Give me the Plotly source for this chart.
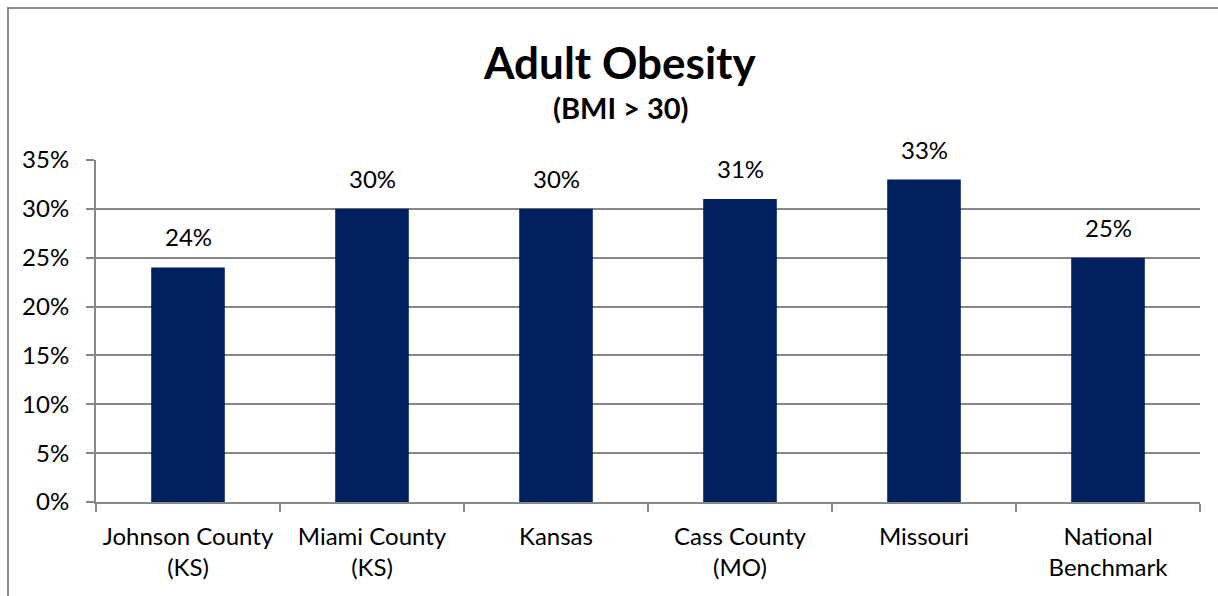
import plotly.graph_objects as go

# Data
categories = ["Johnson County<br>(KS)", "Miami County<br>(KS)", "Kansas",
              "Cass County<br>(MO)", "Missouri", "National<br>Benchmark"]
obesity_pct = [24, 30, 30, 31, 33, 25]
y_ticks = [0, 5, 10, 15, 20, 25, 30, 35]
y_tick_labels = [f"{v}%" for v in y_ticks]

BAR = "#002060"
GRID = "#878787"
FONT = "Lato"

W, H = 1218, 596
L, R, T, B = 96, 18, 160, 94
pw, ph = W - L - R, H - T - B


def px_to_paper_x(px):
    return (px - L) / pw


def px_to_paper_y(py):
    return (H - B - py) / ph


fig = go.Figure()
fig.add_trace(go.Bar(
    x=categories, y=obesity_pct,
    marker=dict(color=BAR, line=dict(width=0)),
    width=0.4,
    hoverinfo="x+y",
))

# value labels above bars
annotations = [
    dict(x=c, y=v, xref="x", yref="y", text=f"{v}%", showarrow=False,
         yanchor="bottom", yshift=14, font=dict(family=FONT, size=24, color="#000"))
    for c, v in zip(categories, obesity_pct)
]

# title and subtitle
annotations.append(dict(x=px_to_paper_x(619), y=px_to_paper_y(62), xref="paper", yref="paper",
                        text="<b>Adult Obesity</b>", showarrow=False,
                        xanchor="center", yanchor="middle",
                        font=dict(family=FONT, size=44, color="#000")))
annotations.append(dict(x=px_to_paper_x(621), y=px_to_paper_y(107), xref="paper", yref="paper",
                        text="<b>(BMI &gt; 30)</b>", showarrow=False,
                        xanchor="center", yanchor="middle",
                        font=dict(family=FONT, size=29, color="#000")))

# outer chart border (top and left visible)
shapes = [
    dict(type="rect", xref="paper", yref="paper",
         x0=px_to_paper_x(8), x1=px_to_paper_x(1230),
         y0=px_to_paper_y(620), y1=px_to_paper_y(8),
         line=dict(color="#8c8c8c", width=2), fillcolor="rgba(0,0,0,0)", layer="below"),
]

fig.update_layout(
    width=W, height=H,
    margin=dict(l=L, r=R, t=T, b=B, pad=0),
    paper_bgcolor="white", plot_bgcolor="white",
    showlegend=False,
    annotations=annotations,
    shapes=shapes,
    font=dict(family=FONT, size=24, color="#000"),
    bargap=0.6,
)

fig.update_yaxes(
    range=[0, 35], tickvals=y_ticks, ticktext=y_tick_labels,
    showgrid=True, gridcolor=GRID, gridwidth=2,
    showline=True, linecolor=GRID, linewidth=2,
    ticks="outside", ticklen=8, tickcolor=GRID, tickwidth=2,
    ticklabelstandoff=12,
    zeroline=False,
    tickfont=dict(family=FONT, size=24, color="#000"),
)
fig.update_xaxes(
    showline=True, linecolor=GRID, linewidth=2,
    ticks="outside", tickson="boundaries", ticklen=8, tickcolor=GRID, tickwidth=2,
    ticklabelstandoff=12,
    showgrid=False,
    tickfont=dict(family=FONT, size=24, color="#000"),
)

fig.write_html("out.html")
